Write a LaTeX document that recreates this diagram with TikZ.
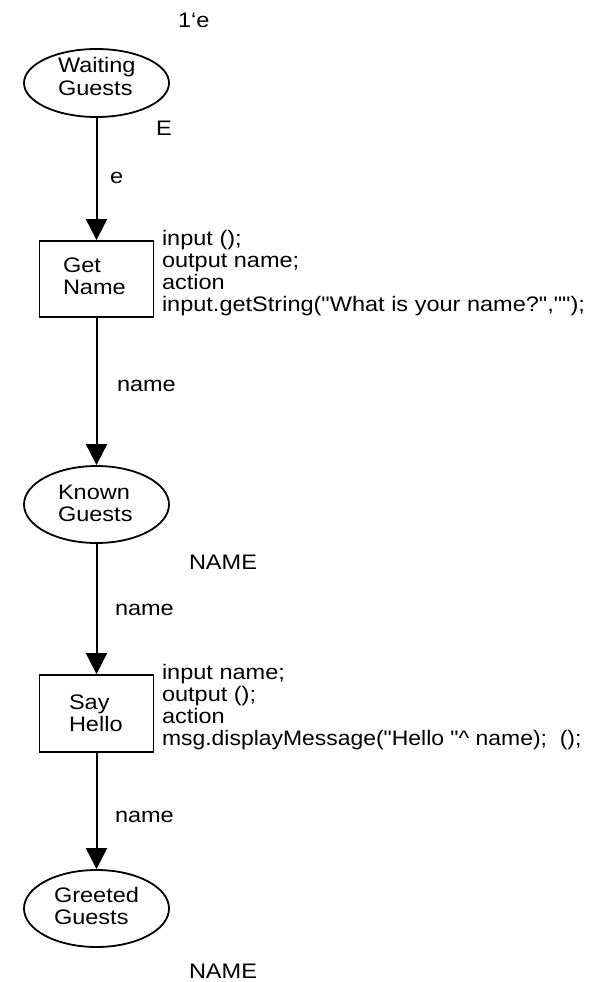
\documentclass[tikz,border=0pt]{standalone}
\usepackage{fontspec}
\usepackage{graphicx}
\setmainfont{Liberation Sans}[FakeStretch=1.12, Ligatures=TeXOff]
\usetikzlibrary{shapes.geometric,arrows.meta}

% multi-line text whose reference point is the baseline of its first line
\newcommand{\stacked}[1]{\begin{tabular}[t]{@{}l@{}}#1\end{tabular}}

\begin{document}
\begin{tikzpicture}[x=1pt, y=-1pt,
  every node/.style={font=\fontsize{21}{22.2}\selectfont},
  place/.style={draw, ellipse, line width=1.8pt, inner sep=0pt,
                minimum width=145pt, minimum height=77pt},
  transition/.style={draw, rectangle, line width=1.8pt, inner sep=0pt,
                minimum width=114pt, minimum height=76pt},
  txt/.style={anchor=base west, inner sep=0pt, outer sep=0pt},
  arc/.style={line width=2pt, -{Triangle[length=21pt, width=21pt]}}]

\useasboundingbox (0,0) rectangle (589,982);

% places and transitions
\node[place, minimum height=68pt] (waiting) at (96.5,83) {};
\node[transition] (getname) at (96.5,279) {};
\node[place] (known) at (96.5,504.5) {};
\node[transition, minimum height=77pt] (sayhello) at (96.5,713.5) {};
\node[place] (greeted) at (96.5,908.5) {};

% names inside the shapes
\node[txt] (waitingT) at (58,73) {\stacked{Waiting\\Guests}};
\node[txt] (getnameT) at (63,272.7) {\stacked{Get\\Name}};
\node[txt] (knownT) at (58,499) {\stacked{Known\\Guests}};
\node[txt] (sayhelloT) at (69,709) {\stacked{Say\\Hello}};
\node[txt] (greetedT) at (54,902.7) {\stacked{Greeted\\Guests}};

% arcs
\draw[arc] (waiting) -- (getname);
\draw[arc] (getname) -- (known);
\draw[arc] (known) -- (sayhello);
\draw[arc] (sayhello) -- (greeted);

% initial marking, colour sets and arc inscriptions
\node[txt] (init) at (178,28) {1‘e};
\node[txt] (csE) at (156,135) {E};
\node[txt] (arcE) at (110,183) {e};
\node[txt] (arcN1) at (117,391.7) {name};
\node[txt] (csN1) at (189,569.3) {NAME};
\node[txt] (arcN2) at (115,615.5) {name};
\node[txt] (arcN3) at (115,822.7) {name};
\node[txt] (csN2) at (189,978) {NAME};

% code segments
\node[txt] (codeGN) at (162,245) {\stacked{input ();\\output name;\\action\\input.getString("What is your name?","");}};
\node[txt] (codeSH) at (162,679) {\stacked{input name;\\output ();\\action\\\scalebox{0.975}[1]{msg.displayMessage("Hello "\textasciicircum\ name);\ \ ();}}};
\end{tikzpicture}
\end{document}
